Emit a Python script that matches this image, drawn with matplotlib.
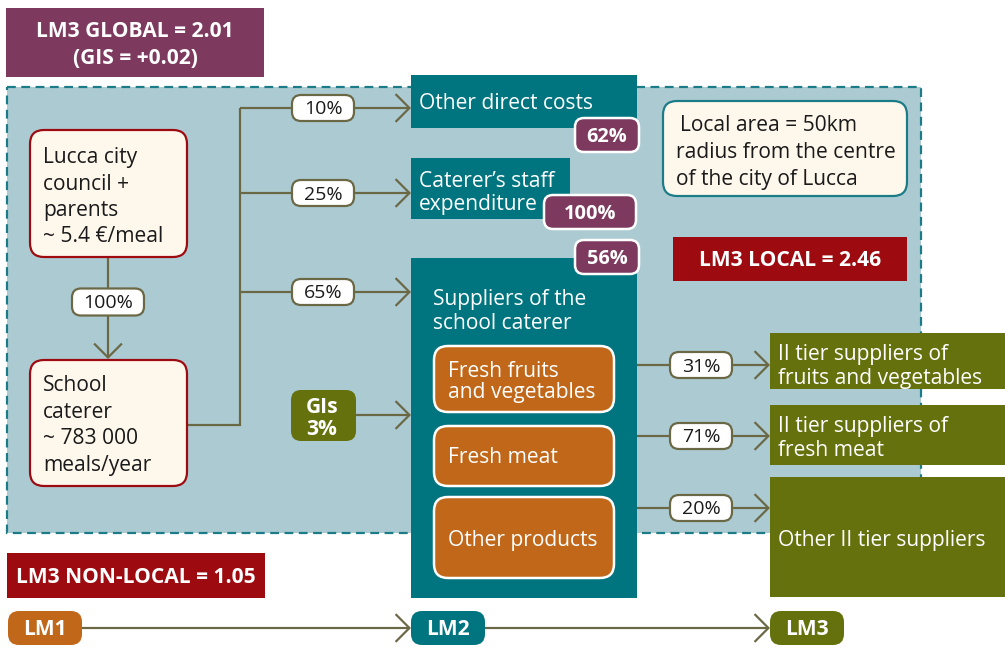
import matplotlib
matplotlib.use('Agg')
import matplotlib.pyplot as plt
from matplotlib.patches import FancyBboxPatch, Rectangle, FancyArrowPatch

plt.rcParams['font.family'] = ['Open Sans', 'DejaVu Sans']

# ---------------- data ----------------
header_global = ["LM3 GLOBAL = 2.01", "(GIS = +0.02)"]
local_label = "LM3 LOCAL = 2.46"
nonlocal_label = "LM3 NON-LOCAL = 1.05"
source_lines = ["Lucca city", "council +", "parents", "~ 5.4 €/meal"]
caterer_lines = ["School", "caterer", "~ 783 000", "meals/year"]
source_to_caterer = "100%"
lm2_categories = [["Other direct costs"], ["Caterer’s staff", "expenditure"],
                  ["Suppliers of the", "school caterer"]]
lm2_shares = ["10%", "25%", "65%"]
lm2_local_shares = ["62%", "100%", "56%"]
gis_label = ["GIs", "3%"]
supplier_products = [["Fresh fruits", "and vegetables"], ["Fresh meat"], ["Other products"]]
lm3_shares = ["31%", "71%", "20%"]
lm3_categories = [["II tier suppliers of", "fruits and vegetables"],
                  ["II tier suppliers of", "fresh meat"],
                  ["Other II tier suppliers"]]
local_area_lines = ["Local area = 50km", "radius from the centre", "of the city of Lucca"]
levels = ["LM1", "LM2", "LM3"]

# ---------------- style ----------------
PURPLE = '#7D3A5E'
TEAL = '#00747F'
DARKRED = '#9D0B11'
ORANGE = '#C0671A'
OLIVE = '#65710D'
CREAM = '#FEF7EC'
LIGHTBLUE = '#ABCAD2'
ARROW = '#6B6845'
DASH = '#1B7C88'
PX = 72 / 100.0  # points per pixel
REG = 21
BOLD = 21

fig = plt.figure(figsize=(10.05, 6.48), dpi=100)
ax = fig.add_axes([0, 0, 1, 1])
ax.set_xlim(0, 1005)
ax.set_ylim(648, 0)
ax.axis('off')


def rect(x0, y0, x1, y1, fc, ec='none', lw=0, z=2, ls='-'):
    ax.add_patch(Rectangle((x0, y0), x1 - x0, y1 - y0, fc=fc, ec=ec, lw=lw, zorder=z, ls=ls))


def rbox(x0, y0, x1, y1, fc, ec='none', lw=0, r=10, z=3):
    ax.add_patch(FancyBboxPatch((x0, y0), x1 - x0, y1 - y0,
                                boxstyle=f"round,pad=0,rounding_size={r}",
                                fc=fc, ec=ec, lw=lw, zorder=z))


def txt(x, y, s, size=REG, color='#1a1a1a', bold=False, ha='left', z=5):
    ax.text(x, y + 2.5, s, fontsize=size * PX, color=color, ha=ha, va='center',
            fontweight='bold' if bold else 'normal', zorder=z)


def lines(x, y0, step, items, **kw):
    for i, s in enumerate(items):
        txt(x, y0 + i * step, s, **kw)


def arrow(x0, y0, x1, y1, z=2):
    ax.add_patch(FancyArrowPatch((x0, y0), (x1, y1),
                                 arrowstyle='->,head_length=0.5,head_width=0.5',
                                 mutation_scale=20, color=ARROW, lw=2.2 * PX,
                                 shrinkA=0, shrinkB=0, zorder=z, joinstyle='miter',
                                 capstyle='butt'))


def seg(xs, ys, z=2):
    ax.plot(xs, ys, color=ARROW, lw=2.2 * PX, zorder=z, solid_capstyle='butt',
            solid_joinstyle='miter')


def pct_label(cx, cy, s, w=62, h=26):
    rbox(cx - w / 2, cy - h / 2, cx + w / 2, cy + h / 2, 'white', ARROW, 2.2 * PX, r=9, z=4)
    txt(cx, cy - 1, s, size=19.5, ha='center')


def badge(cx, cy, s, w=64, h=34):
    rbox(cx - w / 2, cy - h / 2, cx + w / 2, cy + h / 2, PURPLE, 'white', 2.5 * PX, r=9, z=6)
    txt(cx, cy - 0.5, s, size=20, color='white', bold=True, ha='center', z=7)


# ---------------- local area (dashed) ----------------
rect(7, 87, 921, 533, LIGHTBLUE, DASH, 2.2 * PX, z=0, ls=(0, (4, 2.5)))

# header boxes
rect(6, 8, 264, 77, PURPLE, z=2)
lines(135, 29, 27, header_global, size=BOLD, color='white', bold=True, ha='center')
rect(7, 553, 265, 598, DARKRED, z=2)
txt(136, 575, nonlocal_label, size=BOLD, color='white', bold=True, ha='center')
rect(673, 237, 907, 281, DARKRED, z=2)
txt(790, 258, local_label, size=BOLD, color='white', bold=True, ha='center')

# local area note
rbox(663, 101, 907, 196, CREAM, DASH, 2.2 * PX, r=14, z=3)
txt(680, 123, local_area_lines[0])
lines(676, 150, 27, local_area_lines[1:])

# LM1 boxes
rbox(30, 130, 187, 257, CREAM, DARKRED, 2.2 * PX, r=14, z=3)
lines(43, 155, 26.5, source_lines)
rbox(30, 360, 187, 486, CREAM, DARKRED, 2.2 * PX, r=14, z=3)
lines(43, 383, 26.5, caterer_lines)
seg([108, 108], [257, 289])
arrow(108, 316, 108, 359)
pct_label(108, 302, source_to_caterer, w=72, h=27)

# branching from caterer
seg([187, 240, 240], [425, 425, 108])
branch_y = [108, 193, 292]
for y, s in zip(branch_y, lm2_shares):
    seg([240, 300], [y, y])
    arrow(300, y, 411, y)
    pct_label(323, y, s)

# LM2 boxes
rect(411, 75, 637, 128, TEAL, z=2)
lines(419, 101, 23, lm2_categories[0], color='white')
rect(411, 158, 570, 219, TEAL, z=2)
lines(419, 179, 23, lm2_categories[1], color='white')
rect(411, 258, 637, 598, TEAL, z=2)
lines(433, 297, 24, lm2_categories[2], color='white')

for (cx, cy), s in zip([(607, 135), (590, 212), (607, 257)], lm2_local_shares):
    badge(cx, cy, s, w=64 if len(s) < 4 else 92)

# GIs
arrow(350, 415, 411, 415)
rbox(291, 390, 356, 441, OLIVE, r=10, z=4)
lines(322, 405, 22, gis_label, size=BOLD, color='white', bold=True, ha='center')

# products
prod_boxes = [(346, 412), (426, 486), (497, 578)]
prod_text_y = [(369, 21), (455, 0), (538, 0)]
for (y0, y1), (ty, st), items in zip(prod_boxes, prod_text_y, supplier_products):
    rbox(434, y0, 614, y1, ORANGE, 'white', 2.5 * PX, r=14, z=4)
    lines(448, ty, st, items, color='white')

# LM3
arrow_y = [365, 436, 508]
for y, s in zip(arrow_y, lm3_shares):
    seg([637, 680], [y, y])
    arrow(680, y, 770, y)
    pct_label(701, y, s)

lm3_boxes = [(333, 389), (405, 465), (477, 597)]
lm3_text_y = [(352, 24), (424, 24), (538, 0)]
for (y0, y1), (ty, st), items in zip(lm3_boxes, lm3_text_y, lm3_categories):
    rect(770, y0, 1005, y1, OLIVE, z=3)
    lines(778, ty, st, items, color='white')

# bottom level line
level_x = [8, 411, 770]
level_c = [ORANGE, TEAL, OLIVE]
arrow(82, 628, 411, 628)
arrow(485, 628, 770, 628)
for x, c, s in zip(level_x, level_c, levels):
    rbox(x, 611, x + 74, 645, c, r=11, z=4)
    txt(x + 37, 627, s, size=BOLD, color='white', bold=True, ha='center')

fig.savefig('out.png', dpi=100)
